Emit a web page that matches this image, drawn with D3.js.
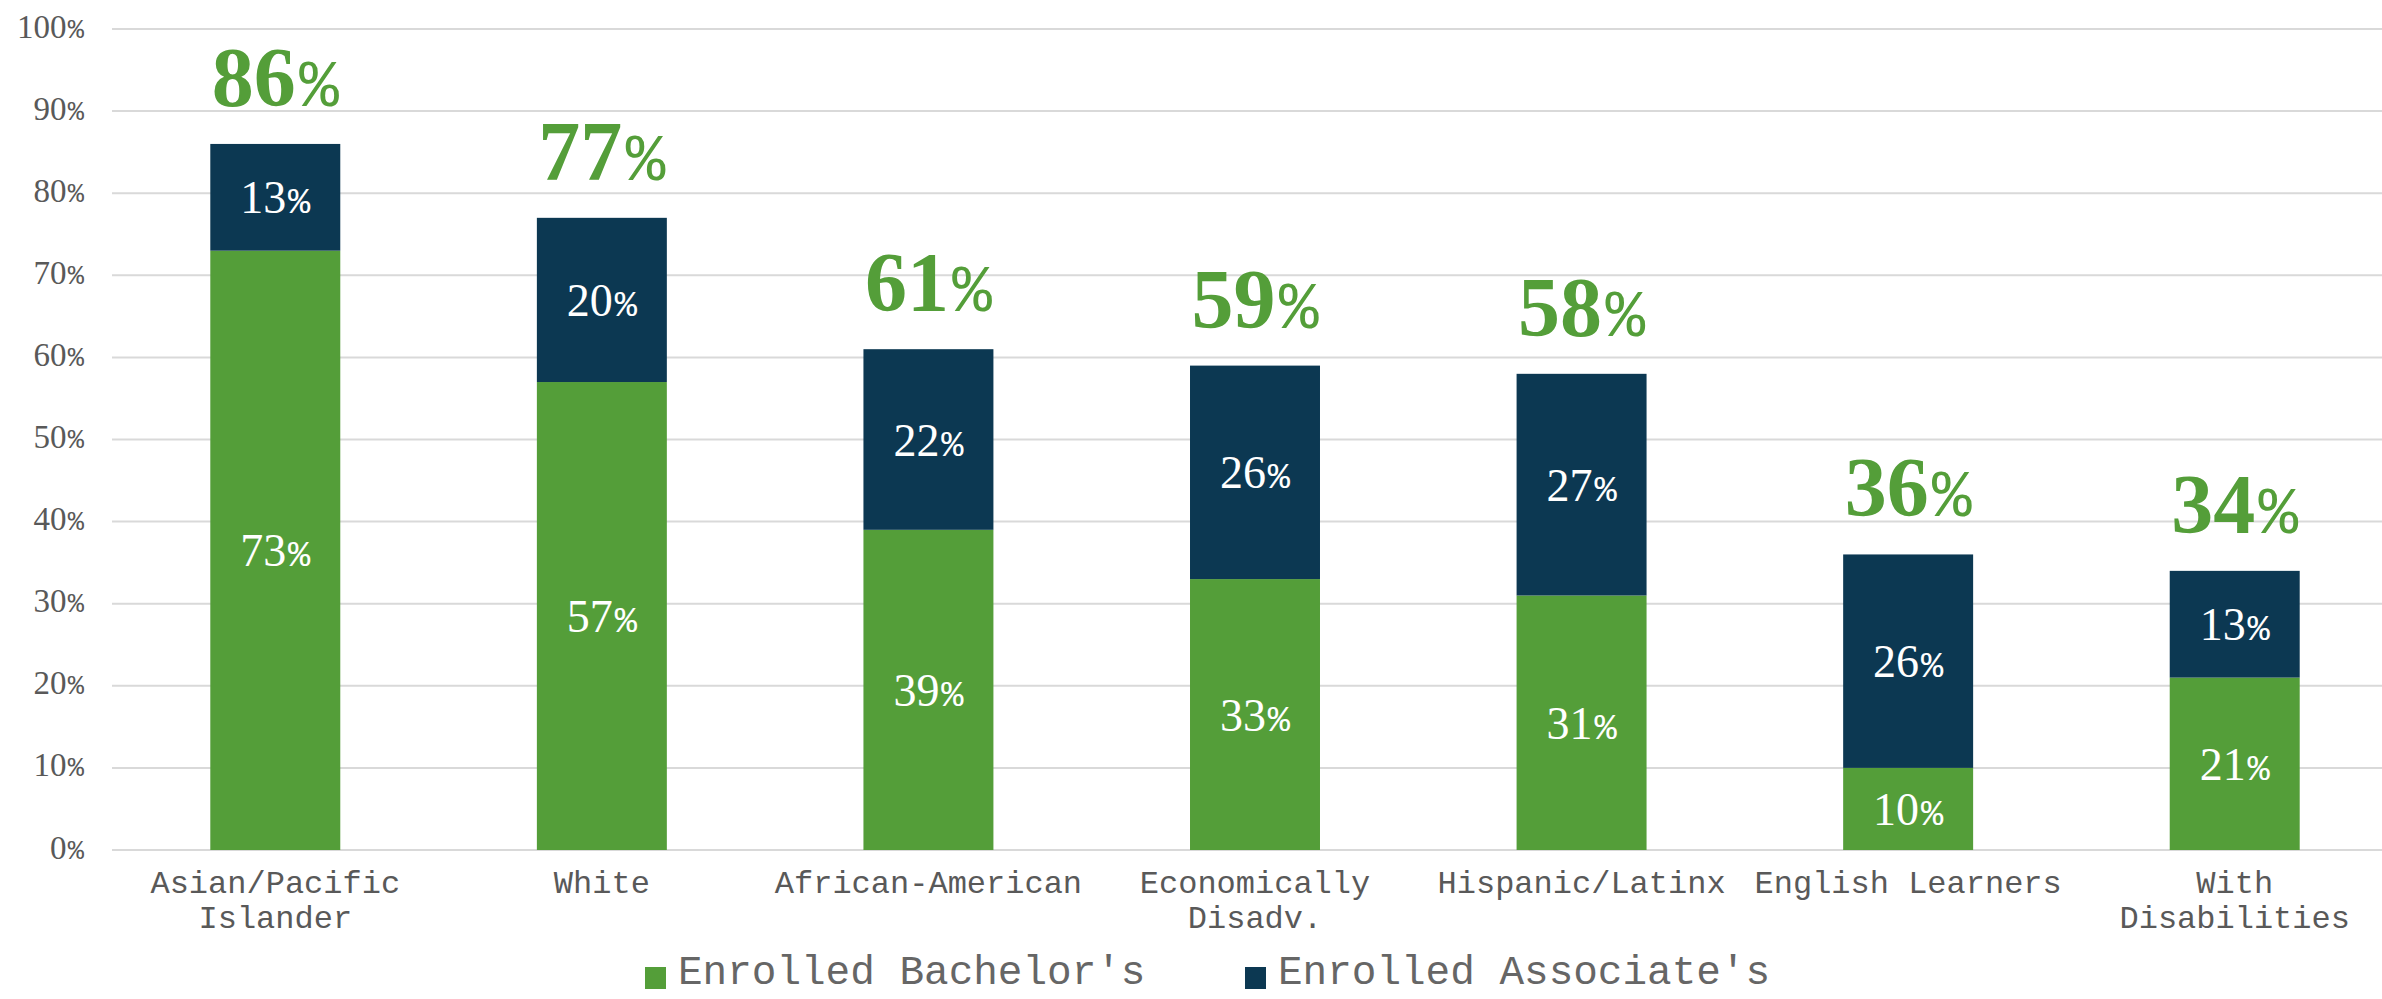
<!DOCTYPE html>
<html>
<head>
<meta charset="utf-8">
<script src="https://cdn.jsdelivr.net/npm/d3@7"></script>
<style>
  html, body { margin: 0; padding: 0; background: #fff; }
  svg { display: block; }
</style>
</head>
<body>
<svg id="chart" width="2382" height="999"></svg>
<script>
// ---- data ----
const categories = ["Asian/Pacific Islander", "White", "African-American", "Economically Disadv.", "Hispanic/Latinx", "English Learners", "With Disabilities"];
const categoryLines = [["Asian/Pacific", "Islander"], ["White"], ["African-American"], ["Economically", "Disadv."], ["Hispanic/Latinx"], ["English Learners"], ["With", "Disabilities"]];
const bachelors = [73, 57, 39, 33, 31, 10, 21];
const associates = [13, 20, 22, 26, 27, 26, 13];
const totals = [86, 77, 61, 59, 58, 36, 34];
const yTicks = [0, 10, 20, 30, 40, 50, 60, 70, 80, 90, 100];
const seriesNames = ["Enrolled Bachelor's", "Enrolled Associate's"];

const GREEN = "#549e39";
const NAVY = "#0c3852";
const GRAY = "#595959";
const SERIF = "'Liberation Serif', 'Times New Roman', serif";
const MONO = "'Liberation Mono', 'Courier New', monospace";

const svg = d3.select("#chart");

const x = d3.scaleBand()
  .domain(categories)
  .range([112, 2398])
  .paddingInner(0.602)
  .paddingOuter(0.301);

const y = d3.scaleLinear().domain([0, 100]).range([850, 29]);

// gridlines
svg.append("g").selectAll("line").data(yTicks).join("line")
  .attr("x1", 112).attr("x2", 2382)
  .attr("y1", d => y(d)).attr("y2", d => y(d))
  .attr("stroke", "#d9d9d9").attr("stroke-width", 2);

// helper for number + % text
function pctText(sel, num, size, pctSize, pctWeight) {
  sel.append("tspan").attr("font-family", SERIF).attr("font-size", size).text(num);
  sel.append("tspan").attr("font-family", MONO).attr("font-size", pctSize)
    .attr("font-weight", pctWeight || "normal").attr("dx", size * 0.04).text("%");
}

// y-axis labels
const yAxis = d3.axisLeft(y).tickValues(yTicks).tickSize(0).tickFormat(d => d);
const yg = svg.append("g").attr("transform", "translate(84,0)").call(yAxis);
yg.select(".domain").remove();
yg.selectAll(".tick text").each(function(d) {
  const t = d3.select(this);
  t.text(null).attr("x", 0).attr("dy", null).attr("y", 8)
    .attr("fill", GRAY).attr("text-anchor", "end");
  pctText(t, d, 33, 27);
});

// stacked bars
const stackData = categories.map((c, i) => ({ cat: c, b: bachelors[i], a: associates[i] }));
const stack = d3.stack().keys(["b", "a"])(stackData);
const colors = [GREEN, NAVY];

stack.forEach((layer, li) => {
  const g = svg.append("g");
  g.selectAll("rect").data(layer).join("rect")
    .attr("x", d => x(d.data.cat))
    .attr("width", x.bandwidth())
    .attr("y", d => y(d[1]))
    .attr("height", d => y(d[0]) - y(d[1]))
    .attr("fill", colors[li]);
  g.selectAll("text").data(layer).join("text")
    .attr("x", d => x(d.data.cat) + x.bandwidth() / 2)
    .attr("y", d => (y(d[0]) + y(d[1])) / 2 + 16)
    .attr("text-anchor", "middle")
    .attr("fill", "#ffffff")
    .each(function(d) { pctText(d3.select(this), d[1] - d[0], 46, 37); });
});

// totals
svg.append("g").selectAll("text").data(categories).join("text")
  .attr("x", (d) => x(d) + x.bandwidth() / 2)
  .attr("y", (d, i) => y(totals[i]) - 38)
  .attr("text-anchor", "middle")
  .attr("fill", GREEN)
  .attr("font-weight", "bold")
  .each(function(d, i) { pctText(d3.select(this), totals[i], 84, 66, "normal"); });

// category labels
const xl = svg.append("g");
categories.forEach((c, i) => {
  const t = xl.append("text")
    .attr("x", x(c) + x.bandwidth() / 2)
    .attr("y", 893)
    .attr("text-anchor", "middle")
    .attr("font-family", MONO)
    .attr("font-size", 32)
    .attr("fill", GRAY);
  categoryLines[i].forEach((ln, j) => {
    t.append("tspan").attr("x", x(c) + x.bandwidth() / 2).attr("dy", j === 0 ? 0 : 35).text(ln);
  });
});

// legend
const legendX = [645, 1245];
seriesNames.forEach((s, i) => {
  svg.append("rect").attr("x", legendX[i]).attr("y", 967).attr("width", 21).attr("height", 22).attr("fill", colors[i]);
  svg.append("text").attr("x", legendX[i] + 33).attr("y", 984)
    .attr("font-family", MONO).attr("font-size", 41).attr("fill", "#666666").text(s);
});
</script>
</body>
</html>
